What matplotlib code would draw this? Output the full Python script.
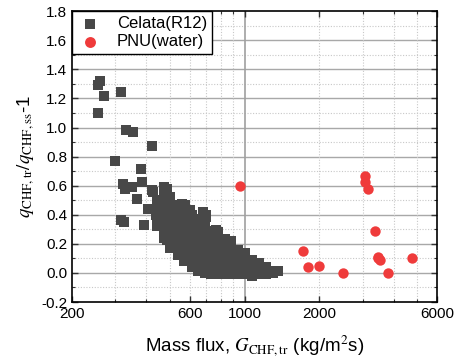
import matplotlib
matplotlib.use("Agg")
import matplotlib.pyplot as plt
from matplotlib.ticker import FixedLocator, NullFormatter

plt.rcParams['font.family'] = ['Liberation Sans', 'DejaVu Sans']
plt.rcParams['mathtext.fontset'] = 'stix'

# Celata (R12) data: mass flux and q ratio - 1
celata_G = [260, 255, 269, 316, 254, 332, 354, 423, 298, 380, 321, 384, 350, 423, 485,
            328, 366, 405, 476, 470, 315, 326, 390, 436, 457, 476, 485, 425, 473, 478,
            571, 600, 697, 463, 505, 590, 765, 830, 470, 560, 680, 700,
            440, 440, 440, 440,
            470, 470, 470, 470, 470, 470,
            500, 500, 500, 500, 500, 500, 500,
            535, 535, 535, 535, 535, 535, 535,
            570, 570, 570, 570, 570, 570, 570,
            610, 610, 610, 610, 610, 610, 610,
            650, 650, 650, 650, 650, 650, 650,
            690, 690, 690, 690, 690, 690, 690,
            730, 730, 730, 730, 730, 730,
            780, 780, 780, 780, 780, 780,
            830, 830, 830, 830, 830,
            880, 880, 880, 880, 880,
            940, 940, 940, 940,
            1000, 1000, 1000, 1000,
            1070, 1070, 1070,
            1140, 1140, 1140,
            1220, 1220,
            1300, 1300,
            1370]
celata_y = [1.32, 1.29, 1.215, 1.243, 1.10, 0.986, 0.972, 0.876, 0.77, 0.715, 0.61, 0.628, 0.59, 0.569, 0.58,
            0.58, 0.507, 0.443, 0.546, 0.466, 0.367, 0.347, 0.328, 0.397, 0.34, 0.294, 0.225, 0.557, 0.557, 0.50,
            0.466, 0.43, 0.397, 0.455, 0.43, 0.35, 0.294, 0.236, 0.59, 0.477, 0.42, 0.385,
            0.32, 0.38, 0.44, 0.50,
            0.24, 0.30, 0.36, 0.42, 0.48, 0.53,
            0.17, 0.23, 0.29, 0.35, 0.41, 0.47, 0.52,
            0.12, 0.18, 0.24, 0.30, 0.36, 0.42, 0.47,
            0.08, 0.14, 0.20, 0.26, 0.32, 0.38, 0.44,
            0.04, 0.10, 0.16, 0.22, 0.28, 0.34, 0.40,
            0.01, 0.07, 0.13, 0.19, 0.25, 0.31, 0.37,
            0.00, 0.06, 0.12, 0.18, 0.24, 0.30, 0.36,
            -0.01, 0.05, 0.11, 0.17, 0.23, 0.29,
            -0.01, 0.05, 0.11, 0.17, 0.23, 0.28,
            -0.01, 0.05, 0.11, 0.17, 0.22,
            -0.01, 0.05, 0.11, 0.17, 0.22,
            -0.01, 0.05, 0.11, 0.16,
            -0.01, 0.05, 0.10, 0.14,
            -0.02, 0.04, 0.09,
            -0.01, 0.04, 0.07,
            -0.01, 0.04,
            0.00, 0.01,
            0.01]

# PNU (water) data
pnu_G = [957, 1717, 1798, 1993, 2491, 3058, 3058, 3145, 3366, 3472, 3530, 3450, 3810, 4738]
pnu_y = [0.596, 0.151, 0.040, 0.048, 0.0, 0.665, 0.626, 0.58, 0.287, 0.11, 0.092, 0.10, 0.0, 0.103]

xticks = [200, 600, 1000, 2000, 6000]
xtick_labels = ['200', '600', '1000', '2000', '6000']
yticks = [-0.2, 0.0, 0.2, 0.4, 0.6, 0.8, 1.0, 1.2, 1.4, 1.6, 1.8]

fig = plt.figure(figsize=(4.61, 3.60), dpi=100)
ax = fig.add_axes([0.156, 0.161, 0.792, 0.808])
ax.set_xscale('log')
ax.set_xlim(200, 6000)
ax.set_ylim(-0.2, 1.8)

# grid lines
for yv in yticks[1:-1]:
    ax.axhline(yv, color='#a8a8a8', lw=1.0, zorder=0)
for yv in [-0.1, 0.1, 0.3, 0.5, 0.7, 0.9, 1.1, 1.3, 1.5, 1.7]:
    ax.axhline(yv, color='#c8c8c8', lw=0.8, ls=(0, (1, 1.5)), zorder=0)
ax.axvline(1000, color='#a0a0a0', lw=1.2, zorder=0)
for xv in [300, 400, 500, 600, 700, 800, 900, 2000, 3000, 4000, 5000]:
    ax.axvline(xv, color='#c8c8c8', lw=0.8, ls=(0, (1, 1.5)), zorder=0)

ax.scatter(celata_G, celata_y, marker='s', s=44, color='#484848', linewidths=0,
           label='Celata(R12)', zorder=3)
ax.scatter(pnu_G, pnu_y, marker='o', s=56, color='#ef3b3b', linewidths=0,
           label='PNU(water)', zorder=4)

ax.xaxis.set_major_locator(FixedLocator(xticks))
ax.set_xticklabels(xtick_labels)
ax.xaxis.set_minor_locator(FixedLocator([300, 400, 500, 700, 800, 900, 3000, 4000, 5000]))
ax.xaxis.set_minor_formatter(NullFormatter())
ax.set_yticks(yticks)
ax.set_yticklabels(['%.1f' % v for v in yticks])
ax.yaxis.set_minor_locator(FixedLocator([-0.1, 0.1, 0.3, 0.5, 0.7, 0.9, 1.1, 1.3, 1.5, 1.7]))

ax.tick_params(which='both', direction='in', top=True, right=True, labelsize=11,
               color='#333333')
ax.tick_params(which='major', length=4, width=1)
ax.tick_params(which='minor', length=2.5, width=0.8)
for sp in ax.spines.values():
    sp.set_linewidth(1.2)

ax.set_xlabel(r'Mass flux, $G_{\mathrm{CHF,tr}}$ (kg/m$^2$s)', fontsize=13.5, labelpad=9)
ax.set_ylabel(r'$q_{\mathrm{CHF,tr}}/q_{\mathrm{CHF,ss}}$-1', fontsize=13.5, labelpad=3)

leg = ax.legend(loc='upper left', fontsize=12, frameon=True, fancybox=False,
                borderaxespad=0.0, handletextpad=0.8, borderpad=0.3,
                labelspacing=0.2, handlelength=1.6, markerscale=1.05)
leg.get_frame().set_edgecolor('black')
leg.get_frame().set_linewidth(1.0)
leg.get_frame().set_alpha(1)

fig.savefig('out.png', dpi=100)
